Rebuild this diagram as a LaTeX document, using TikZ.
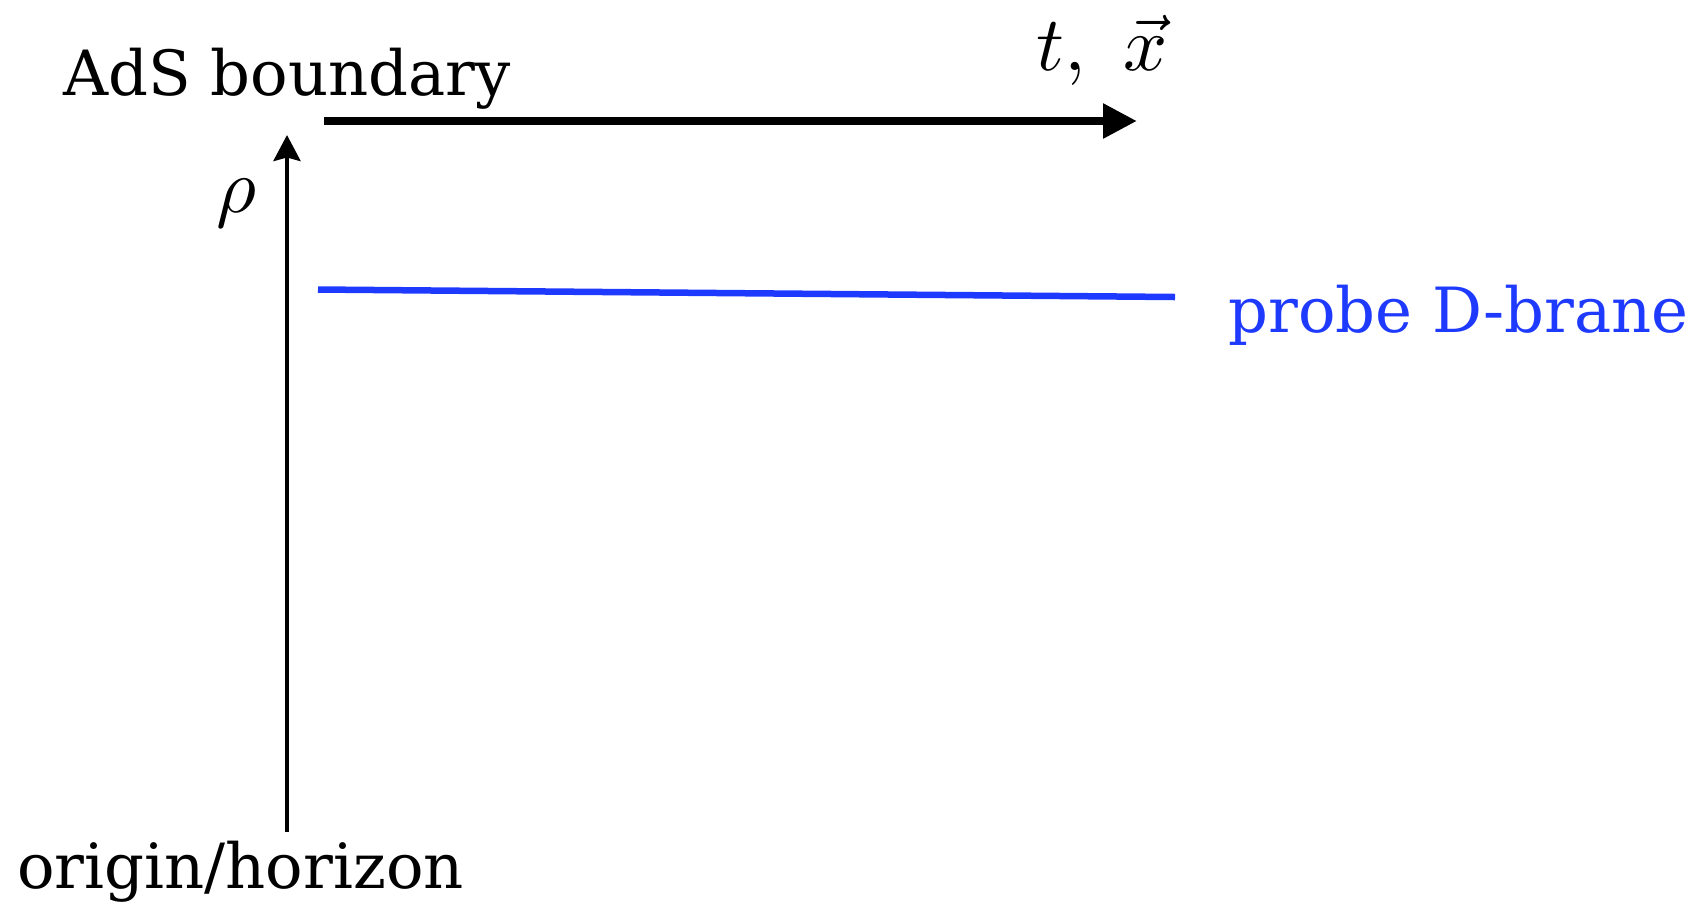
\documentclass[tikz,border=0pt]{standalone}
\usepackage{fontspec}
\setmainfont{DejaVu Serif}
\usetikzlibrary{arrows.meta}

\definecolor{branecol}{RGB}{31,58,255}
\newcommand{\bigmath}[1]{\scalebox{4.4}{$#1$}}

\begin{document}
\begin{tikzpicture}[x=0.02cm, y=-0.02cm,
    lbl/.style={inner sep=0pt, font=\fontsize{35.5}{42}\selectfont},
    mathlbl/.style={inner sep=0pt}]
  \useasboundingbox (0,0) rectangle (1706,904);

  % Axes
  \coordinate (bndL) at (324,121);
  \coordinate (bndR) at (1137,121);
  \coordinate (rhoB) at (287,832);
  \coordinate (rhoT) at (287,135);
  \draw[line width=5pt, -{Triangle[length=0.68cm, width=0.66cm]}] (bndL) -- (bndR);
  \draw[line width=2.4pt, -{Stealth[length=0.52cm, width=0.54cm, inset=0.07cm]}] (rhoB) -- (rhoT);

  % Probe brane
  \coordinate (braneL) at (318,289.5);
  \coordinate (braneR) at (1175,297);
  \draw[branecol, line width=3.7pt] (braneL) -- (braneR);

  % Labels
  \node[lbl, anchor=base west] (ads) at (63,95) {AdS boundary};
  \node[mathlbl, anchor=base west] (tx) at (1036,70) {\bigmath{t,\ \vec{x}}};
  \node[mathlbl, anchor=base east] (rho) at (257,212) {\bigmath{\rho}};
  \node[lbl, anchor=base west, text=branecol] (brane) at (1228,332) {probe D-brane};
  \node[lbl, anchor=base west] (origin) at (17,888) {origin/horizon};
\end{tikzpicture}
\end{document}
